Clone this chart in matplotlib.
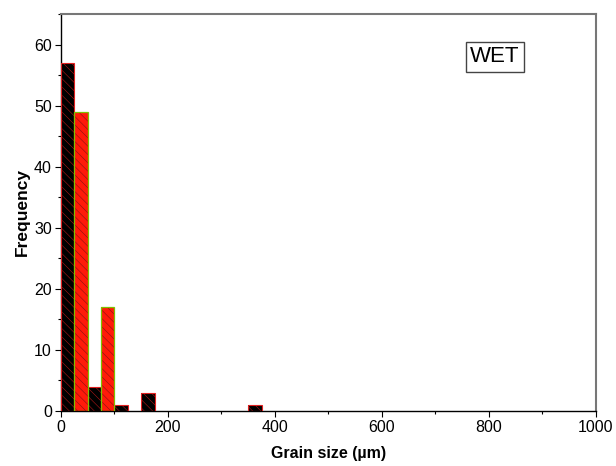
import matplotlib
matplotlib.use("Agg")
import matplotlib.pyplot as plt
from matplotlib.ticker import MultipleLocator

plt.rcParams['font.family'] = ['Liberation Sans', 'DejaVu Sans']
plt.rcParams['hatch.linewidth'] = 0.4

# Data (bin left edges in µm, counts)
bin_width = 25
black_bins = [0, 50, 100, 150, 350]
black_counts = [57, 4, 1, 3, 1]
red_bins = [25, 75]
red_counts = [49, 17]

fig = plt.figure(figsize=(6.16, 4.66), dpi=100)
ax = fig.add_axes([0.099, 0.118, 0.8685, 0.852])

ax.bar(black_bins, black_counts, width=bin_width, align='edge',
       color='black', edgecolor='#b01818', linewidth=0, hatch='\\\\\\\\', zorder=2)
ax.bar(black_bins, black_counts, width=bin_width, align='edge',
       color='none', edgecolor='#e02020', linewidth=0.8, zorder=3)
ax.bar(red_bins, red_counts, width=bin_width, align='edge',
       color='#ff1a0a', edgecolor='#8a1010', linewidth=0, hatch='\\\\\\\\', zorder=2)
ax.bar(red_bins, red_counts, width=bin_width, align='edge',
       color='none', edgecolor='#7fc000', linewidth=0.9, zorder=3)

ax.set_xlim(0, 1000)
ax.set_ylim(0, 65)
ax.xaxis.set_major_locator(MultipleLocator(200))
ax.xaxis.set_minor_locator(MultipleLocator(100))
ax.yaxis.set_major_locator(MultipleLocator(10))
ax.yaxis.set_minor_locator(MultipleLocator(5))

ax.tick_params(axis='both', which='major', direction='out', length=4, width=0.8,
               labelsize=11.5, pad=2.5, top=False, right=False)
ax.tick_params(axis='both', which='minor', direction='out', length=2.5, width=0.8,
               top=False, right=False)

for s in ['left', 'bottom']:
    ax.spines[s].set_color('black')
    ax.spines[s].set_linewidth(1.0)
for s in ['top', 'right']:
    ax.spines[s].set_color('#777777')
    ax.spines[s].set_linewidth(1.5)

ax.set_xlabel('Grain size (µm)', fontsize=11.5, fontweight='bold', labelpad=8)
ax.set_ylabel('Frequency', fontsize=12.5, fontweight='bold', labelpad=3)

ax.text(811, 58, 'WET', fontsize=16, ha='center', va='center',
        bbox=dict(boxstyle='square,pad=0.2', facecolor='white', edgecolor='#444444', linewidth=1))

fig.savefig('out.png', dpi=100)
